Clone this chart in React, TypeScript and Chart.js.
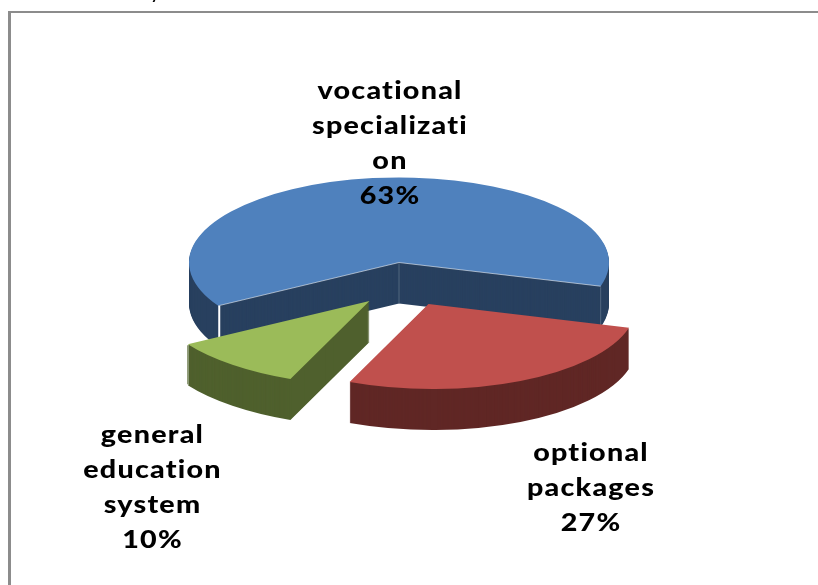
import React, { useEffect, useRef } from "react";
import { Chart, registerables } from "chart.js";

Chart.register(...registerables);

const categories = ["vocational specialization", "optional packages", "general education system"];
const shares = [63, 27, 10];
const labelLines = [
  ["vocational", "specializati", "on", "63%"],
  ["optional", "packages", "27%"],
  ["general", "education", "system", "10%"],
];
const croppedHeadingTail = "y";
const topColors = ["#4F81BD", "#C0504D", "#9BBB59"];
const wallColors = ["#28405F", "#602725", "#4F602D"];

// 3D look
const TILT = 0.405;
const DEPTH = 41;
const CENTERS = [
  { x: 399, y: 262.5 },
  { x: 428.5, y: 304 },
  { x: 369.5, y: 301 },
];
// perspective correction per slice: x scale, x shear
const PERSPECTIVE = [
  { a: 1, b: 0 },
  { a: 0.989, b: 0.046 },
  { a: 1.025, b: 0.082 },
];
const DRAW_ORDER = [0, 2, 1];
const LABEL_POS = [
  { x: 390, y: 98.5 },
  { x: 591, y: 460.5 },
  { x: 152.5, y: 442.5 },
];
const LINE_H = 35.3;
const LABEL_FONT = "900 25.5px Lato";
const LABEL_STRETCH = 1.125;
const LABEL_SPACING = "1.1px";

const pie3d = {
  id: "pie3d",
  beforeDatasetDraw(chart: any) {
    const ctx = chart.ctx;
    const arcs = chart.getDatasetMeta(0).data;
    const drawArc = (i: number, dy: number, color: string) => {
      const arc = arcs[i];
      const saved = arc.options;
      arc.options = { ...saved, backgroundColor: color };
      ctx.save();
      ctx.translate(CENTERS[i].x, CENTERS[i].y + dy);
      ctx.transform(PERSPECTIVE[i].a, 0, PERSPECTIVE[i].b, 1, 0, 0);
      ctx.scale(1, TILT);
      ctx.translate(-arc.x, -arc.y);
      arc.draw(ctx);
      ctx.restore();
      arc.options = saved;
    };
    const rim = (i: number, angle: number) => {
      const u = Math.cos(angle) * arcs[i].outerRadius;
      const v = Math.sin(angle) * arcs[i].outerRadius * TILT;
      return {
        x: CENTERS[i].x + PERSPECTIVE[i].a * u + PERSPECTIVE[i].b * v,
        y: CENTERS[i].y + v,
      };
    };
    const line = (x1: number, y1: number, x2: number, y2: number, c: string, w = 1) => {
      ctx.save();
      ctx.strokeStyle = c;
      ctx.lineWidth = w;
      ctx.beginPath();
      ctx.moveTo(x1, y1);
      ctx.lineTo(x2, y2);
      ctx.stroke();
      ctx.restore();
    };
    for (const i of DRAW_ORDER) {
      for (let d = DEPTH; d >= 1; d--) drawArc(i, d, wallColors[i]);
      drawArc(i, 0, topColors[i]);
      const c = CENTERS[i];
      const a = rim(i, arcs[i].startAngle);
      const b = rim(i, arcs[i].endAngle);
      if (i === 0) {
        line(a.x + 1, a.y, a.x + 1, a.y + 32, "#FFFFFF", 2);
        line(c.x, c.y + 1, c.x, c.y + DEPTH, "#51667F");
        line(b.x, b.y + 1, b.x, b.y + DEPTH - 2, "#51667F");
        line(a.x, a.y, c.x, c.y, "rgba(255,255,255,0.55)");
        line(c.x, c.y, b.x, b.y, "rgba(255,255,255,0.55)");
      }
      if (i === 2) line(b.x, b.y + 1, b.x, b.y + DEPTH - 1, "#6B7B4C");
    }
    return false;
  },
  afterDatasetsDraw(chart: any) {
    const ctx = chart.ctx;
    ctx.save();
    ctx.fillStyle = "#000000";
    ctx.font = "700 16px Lato";
    ctx.textAlign = "center";
    ctx.fillText(croppedHeadingTail, 155, -1);
    ctx.font = LABEL_FONT;
    ctx.textBaseline = "alphabetic";
    (ctx as any).letterSpacing = LABEL_SPACING;
    labelLines.forEach((lines, i) => {
      lines.forEach((t, j) => {
        ctx.save();
        ctx.translate(LABEL_POS[i].x, LABEL_POS[i].y + j * LINE_H);
        ctx.scale(LABEL_STRETCH, 1);
        ctx.fillText(t, 0, 0);
        ctx.restore();
      });
    });
    ctx.restore();
  },
};

export default function App() {
  const ref = useRef<HTMLCanvasElement>(null);
  useEffect(() => {
    document.body.style.margin = "0";
    const chart = new Chart(ref.current as any, {
      type: "pie",
      data: {
        labels: categories,
        datasets: [{ data: shares, backgroundColor: topColors, borderWidth: 0 }],
      },
      options: {
        animation: false,
        responsive: false,
        rotation: 239.4,
        layout: { padding: { top: 82.5, bottom: 82.5 } },
        plugins: { legend: { display: false }, tooltip: { enabled: false }, title: { display: false } },
      },
      plugins: [pie3d],
    } as any);
    return () => chart.destroy();
  }, []);
  return (
    <div style={{ position: "relative", width: 818, height: 585, overflow: "hidden", background: "#fff" }}>
      <div
        style={{
          position: "absolute",
          left: 8,
          top: 11,
          width: 830,
          height: 600,
          borderLeft: "3px solid #8C8C8C",
          borderTop: "2px solid #8C8C8C",
        }}
      />
      <canvas ref={ref} width={818} height={585} style={{ position: "absolute", left: 0, top: 0 }} />
    </div>
  );
}
